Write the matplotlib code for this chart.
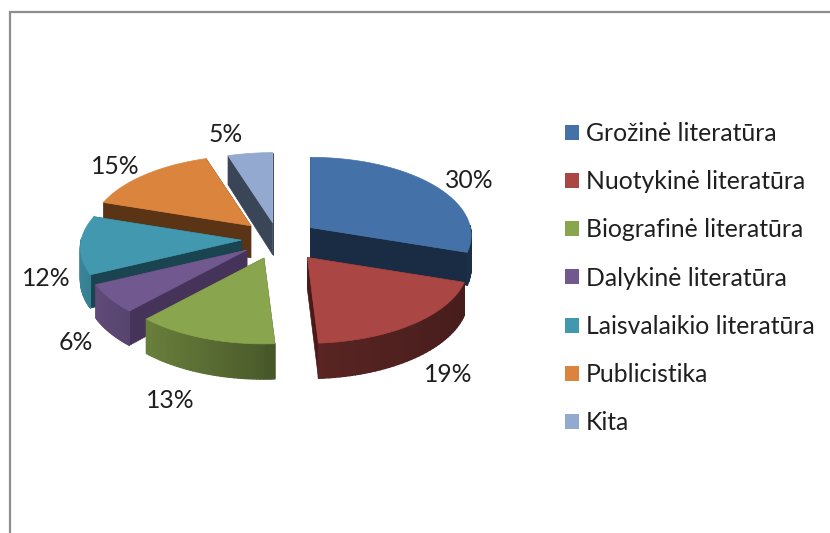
import numpy as np
import matplotlib
matplotlib.use("Agg")
import matplotlib.pyplot as plt
from matplotlib.patches import Patch
from matplotlib.collections import PolyCollection

categories = ["Grožinė literatūra", "Nuotykinė literatūra", "Biografinė literatūra",
              "Dalykinė literatūra", "Laisvalaikio literatūra", "Publicistika", "Kita"]
values = [30, 19, 13, 6, 12, 15, 5]
colors = ["#4471A8", "#AA4643", "#89A54E", "#71588F", "#4198AF", "#DB843D", "#93A9CF"]
dark_faces = ["#1A2C44", "#4A1A18", "#4C5C2A", "#46335A", "#1A4450", "#5A3415", "#3A4558"]
explode = [0.25, 0.30, 0.26, 0.24, 0.23, 0.24, 0.21]

# layout of the pie in pixels
cx, cy = 278, 239
rx, ry = 160, 78
persp = 0.10
depth = 32

# percent labels (text centres)
label_x = [469, 448, 170, 76, 46, 115, 226]
label_y = [180, 375, 400, 343, 279, 167, 134]

# slices run clockwise from 12 o'clock, painted back to front
draw_order = [6, 5, 4, 3, 2, 0, 1]

plt.rcParams['font.family'] = ['Lato', 'DejaVu Sans']
fig = plt.figure(figsize=(8.30, 5.33), dpi=100)
ax = fig.add_axes([0, 0, 1, 1])
ax.set_xlim(0, 830)
ax.set_ylim(533, 0)
ax.axis("off")


def project(t, ox, oy):
    s = 1 - persp * np.sin(t)
    return ox + rx * np.cos(t) * s, oy - ry * np.sin(t) * s, depth * s


def side_shade(t):
    c = np.cos(t)
    return np.where(c < 0, 0.55 - 0.32 * c, 0.53 - 0.12 * c)


fractions = np.array(values) / sum(values)
edges = np.pi / 2 - 2 * np.pi * np.concatenate([[0], np.cumsum(fractions)])

for n, i in enumerate(draw_order):
    z = 1 + n
    t0, t1 = edges[i], edges[i + 1]
    mid = (t0 + t1) / 2
    ox = cx + explode[i] * rx * np.cos(mid)
    oy = cy - explode[i] * ry * np.sin(mid)
    t = np.linspace(t0, t1, 40)
    x, y, d = project(t, ox, oy)

    # the two cut faces
    for k in (0, -1):
        ax.fill([ox, x[k], x[k], ox], [oy, y[k], y[k] + d[k], oy + depth],
                color=dark_faces[i], lw=0.5, zorder=z)

    # outer wall, only the front part of the rim can be seen
    quads = []
    shades = []
    rgb = np.array(matplotlib.colors.to_rgb(colors[i]))
    for j in range(len(t) - 1):
        tm = (t[j] + t[j + 1]) / 2
        if np.sin(tm) > 0.02:
            continue
        quads.append([(x[j], y[j]), (x[j + 1], y[j + 1]),
                      (x[j + 1], y[j + 1] + d[j + 1]), (x[j], y[j] + d[j])])
        shades.append(rgb * float(side_shade(tm)))
    if quads:
        ax.add_collection(PolyCollection(quads, facecolors=shades, edgecolors=shades,
                                         linewidths=1.0, zorder=z + 0.1))

    # top face
    ax.fill(np.r_[ox, x], np.r_[oy, y], color=colors[i], lw=0.5, zorder=z + 0.2)

for v, lx, ly in zip(values, label_x, label_y):
    ax.text(lx, ly, f"{v}%", ha="center", va="center", fontsize=17.8, color="#1F1F1F", zorder=20)

# frame lines of the original screenshot
ax.plot([10, 10, 830], [533, 12, 12], color="#8E8E8E", lw=1.6, solid_joinstyle="miter", zorder=21)

handles = [Patch(facecolor=c, edgecolor="none") for c in colors]
leg = ax.legend(handles, categories, loc="upper left", bbox_to_anchor=(565 / 830, 1 - 122 / 533),
                frameon=False, fontsize=17.8, handlelength=0.567, handleheight=0.567,
                handletextpad=0.28, labelspacing=1.02, borderpad=0, borderaxespad=0)
leg.set_zorder(20)
for txt in leg.get_texts():
    txt.set_color("#1F1F1F")

fig.savefig("out.png", dpi=100)
